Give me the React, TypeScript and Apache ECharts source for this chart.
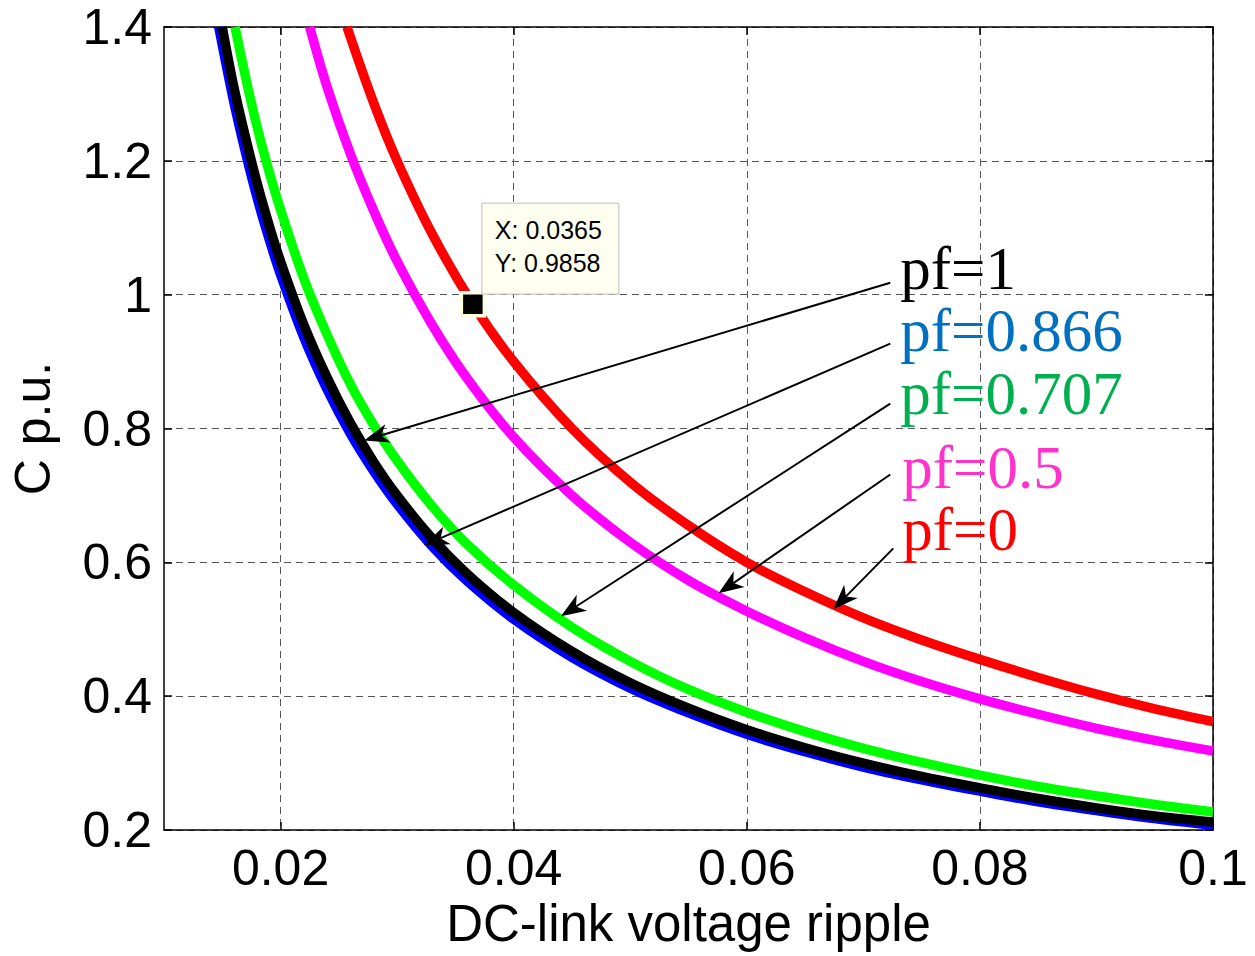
import { useEffect, useRef } from "react";
import * as echarts from "echarts";

// Tick positions on the ripple axis
const rippleTicks = [0.02, 0.04, 0.06, 0.08, 0.1];

// pf = 0
const ripplePf0 = [0.0257, 0.028, 0.03, 0.033, 0.0365, 0.04, 0.045, 0.05, 0.055, 0.06, 0.065, 0.07, 0.075, 0.08, 0.085, 0.09, 0.095, 0.1];
const capPf0 = [1.4, 1.286, 1.2, 1.091, 0.9858, 0.9, 0.8, 0.72, 0.655, 0.6, 0.556, 0.517, 0.484, 0.455, 0.428, 0.403, 0.381, 0.362];

// pf = 0.5
const ripplePf05 = [0.0225, 0.024, 0.026, 0.028, 0.03, 0.033, 0.036, 0.04, 0.045, 0.05, 0.055, 0.06, 0.065, 0.07, 0.075, 0.08, 0.085, 0.09, 0.095, 0.1];
const capPf05 = [1.4, 1.31, 1.21, 1.125, 1.05, 0.955, 0.875, 0.787, 0.7, 0.63, 0.573, 0.527, 0.487, 0.452, 0.422, 0.396, 0.373, 0.352, 0.334, 0.318];

// pf = 0.707
const ripplePf0707 = [0.0161, 0.017, 0.018, 0.019, 0.02, 0.022, 0.024, 0.026, 0.028, 0.03, 0.033, 0.036, 0.04, 0.045, 0.05, 0.055, 0.06, 0.065, 0.07, 0.075, 0.08, 0.085, 0.09, 0.095, 0.1];
const capPf0707 = [1.4, 1.325, 1.25, 1.185, 1.127, 1.024, 0.94, 0.866, 0.805, 0.752, 0.684, 0.627, 0.566, 0.503, 0.452, 0.41, 0.376, 0.347, 0.322, 0.301, 0.282, 0.265, 0.251, 0.238, 0.227];

// pf = 0.866
const ripplePf0866 = [0.0147, 0.016, 0.017, 0.018, 0.019, 0.02, 0.022, 0.024, 0.026, 0.028, 0.03, 0.033, 0.036, 0.04, 0.045, 0.05, 0.055, 0.06, 0.065, 0.07, 0.075, 0.08, 0.085, 0.09, 0.095, 0.1];
const capPf0866 = [1.4, 1.287, 1.212, 1.144, 1.084, 1.03, 0.936, 0.858, 0.792, 0.736, 0.687, 0.624, 0.572, 0.515, 0.458, 0.412, 0.375, 0.343, 0.317, 0.294, 0.275, 0.258, 0.242, 0.229, 0.217, 0.207];

// pf = 1
const ripplePf1 = [0.015, 0.016, 0.017, 0.018, 0.019, 0.02, 0.022, 0.024, 0.026, 0.028, 0.03, 0.033, 0.036, 0.04, 0.045, 0.05, 0.055, 0.06, 0.065, 0.07, 0.075, 0.08, 0.085, 0.09, 0.095, 0.1];
const capPf1 = [1.4, 1.31, 1.235, 1.166, 1.105, 1.05, 0.955, 0.876, 0.808, 0.75, 0.7, 0.636, 0.583, 0.525, 0.467, 0.42, 0.382, 0.35, 0.323, 0.3, 0.28, 0.263, 0.247, 0.233, 0.221, 0.212];

// Data cursor on the pf = 0 curve
const cursorPoint = [0.0365, 0.9858];

const curves = [
  { name: "pf=0", ripple: ripplePf0, cap: capPf0, color: "#FF0000" },
  { name: "pf=0.5", ripple: ripplePf05, cap: capPf05, color: "#FF00FF" },
  { name: "pf=0.707", ripple: ripplePf0707, cap: capPf0707, color: "#00FF00" },
  { name: "pf=0.866", ripple: ripplePf0866, cap: capPf0866, color: "#0000FF" },
  { name: "pf=1", ripple: ripplePf1, cap: capPf1, color: "#000000" },
];

// Callouts: label anchor (left, baseline), arrow start and arrow tip, in data units
const callouts = [
  { text: "pf=1", color: "#000000", label: [0.07317, 1.0119], from: [0.07231, 1.0179], to: [0.02717, 0.7821] },
  { text: "pf=0.866", color: "#0070C0", label: [0.07317, 0.9194], from: [0.07231, 0.9269], to: [0.03231, 0.6254] },
  { text: "pf=0.707", color: "#00B050", label: [0.07317, 0.8254], from: [0.07231, 0.8373], to: [0.04405, 0.5194] },
  { text: "pf=0.5", color: "#FF33CC", label: [0.07334, 0.7149], from: [0.07231, 0.7313], to: [0.05758, 0.5537] },
  { text: "pf=0", color: "#FF0000", label: [0.07334, 0.6224], from: [0.07257, 0.6209], to: [0.06743, 0.5299] },
];

const SANS = '"Liberation Sans", Arial, Helvetica, sans-serif';
const SERIF = '"Liberation Serif", "Times New Roman", serif';

export default function App() {
  const ref = useRef<HTMLDivElement>(null);

  useEffect(() => {
    const el = ref.current;
    if (!el) return;
    const chart = echarts.init(el, null, { renderer: "svg" });

    const frameLine = { show: true, onZero: false, lineStyle: { color: "#000", width: 1.5 } };
    const gridDash = { show: true, lineStyle: { color: "#555", width: 1, type: [7, 5] as any } };

    chart.setOption({
      animation: false,
      backgroundColor: "#fff",
      grid: { left: 163, right: 42, top: 27, bottom: 126, containLabel: false },
      xAxis: [
        {
          type: "value",
          min: 0.01,
          max: 0.1,
          position: "bottom",
          name: "DC-link voltage ripple",
          nameLocation: "middle",
          nameGap: 67,
          nameTextStyle: { fontFamily: SANS, fontSize: 51, color: "#000" },
          axisLine: frameLine,
          axisTick: { show: true, inside: true, length: 8, customValues: rippleTicks, lineStyle: { color: "#000", width: 1.5 } },
          axisLabel: { show: true, customValues: rippleTicks, fontFamily: SANS, fontSize: 50, color: "#000", margin: 13 },
          splitLine: gridDash,
        },
        {
          type: "value",
          min: 0.01,
          max: 0.1,
          position: "top",
          axisLine: frameLine,
          axisTick: { show: true, inside: true, length: 8, customValues: rippleTicks, lineStyle: { color: "#000", width: 1.5 } },
          axisLabel: { show: false },
          splitLine: { show: false },
        },
      ],
      yAxis: [
        {
          type: "value",
          min: 0.2,
          max: 1.4,
          interval: 0.2,
          position: "left",
          name: "C p.u.",
          nameLocation: "middle",
          nameGap: 106,
          nameTextStyle: { fontFamily: SANS, fontSize: 50, color: "#000" },
          axisLine: frameLine,
          axisTick: { show: true, inside: true, length: 8, lineStyle: { color: "#000", width: 1.5 } },
          axisLabel: { fontFamily: SANS, fontSize: 50, color: "#000", margin: 12 },
          splitLine: gridDash,
        },
        {
          type: "value",
          min: 0.2,
          max: 1.4,
          interval: 0.2,
          position: "right",
          axisLine: frameLine,
          axisTick: { show: true, inside: true, length: 8, lineStyle: { color: "#000", width: 1.5 } },
          axisLabel: { show: false },
          splitLine: { show: false },
        },
      ],
      series: curves.map((c, i) => ({
        type: "line",
        name: c.name,
        xAxisIndex: 0,
        yAxisIndex: 0,
        data: c.ripple.map((r, k) => [r, c.cap[k]]),
        showSymbol: false,
        smooth: 0.35,
        clip: true,
        z: 2 + i,
        lineStyle: { color: c.color, width: 9.5, join: "round" },
        itemStyle: { color: c.color },
        markPoint:
          i === 0
            ? {
                symbol: "rect",
                symbolSize: 23,
                silent: true,
                itemStyle: { color: "#000", borderColor: "#FFFFE0", borderWidth: 3.5 },
                label: { show: false },
                data: [{ coord: cursorPoint }],
                z: 20,
              }
            : undefined,
      })),
    });

    const px = (p: number[]) => chart.convertToPixel({ gridIndex: 0 }, p) as number[];

    const graphics: any[] = [];
    callouts.forEach((c) => {
      const s = px(c.from);
      const t = px(c.to);
      const dx = t[0] - s[0];
      const dy = t[1] - s[1];
      const len = Math.hypot(dx, dy);
      const ux = dx / len;
      const uy = dy / len;
      const nx = -uy;
      const ny = ux;
      const L = 25;
      const W = 9.5;
      const back = [t[0] - ux * L, t[1] - uy * L];
      const notch = [t[0] - ux * L * 0.72, t[1] - uy * L * 0.72];
      graphics.push({
        type: "line",
        z: 100,
        shape: { x1: s[0], y1: s[1], x2: notch[0], y2: notch[1] },
        style: { stroke: "#000", lineWidth: 2 },
      });
      graphics.push({
        type: "polygon",
        z: 100,
        shape: {
          points: [
            [t[0], t[1]],
            [back[0] + nx * W, back[1] + ny * W],
            notch,
            [back[0] - nx * W, back[1] - ny * W],
          ],
        },
        style: { fill: "#000" },
      });
      const l = px(c.label);
      graphics.push({
        type: "text",
        z: 100,
        x: l[0],
        y: l[1] - 18,
        style: {
          text: c.text,
          fill: c.color,
          font: `61px ${SERIF}`,
          lineHeight: 52,
          textAlign: "left",
          textVerticalAlign: "middle",
        },
      });
    });

    // Data cursor readout box
    const m = px(cursorPoint);
    graphics.push({
      type: "rect",
      z: 90,
      shape: { x: m[0] + 9, y: m[1] - 101, width: 137, height: 91 },
      style: { fill: "#FFFFF0", stroke: "#BDBDBD", lineWidth: 1 },
    });
    graphics.push({
      type: "text",
      z: 91,
      x: m[0] + 22,
      y: m[1] - 74,
      style: { text: "X: 0.0365", fill: "#000", font: `25px ${SANS}`, textAlign: "left", textVerticalAlign: "middle" },
    });
    graphics.push({
      type: "text",
      z: 91,
      x: m[0] + 22,
      y: m[1] - 41,
      style: { text: "Y: 0.9858", fill: "#000", font: `25px ${SANS}`, textAlign: "left", textVerticalAlign: "middle" },
    });

    chart.setOption({ graphic: graphics });

    return () => chart.dispose();
  }, []);

  return (
    <div
      ref={ref}
      style={{ position: "fixed", left: 0, top: 0, width: 1255, height: 956, background: "#fff" }}
    />
  );
}
